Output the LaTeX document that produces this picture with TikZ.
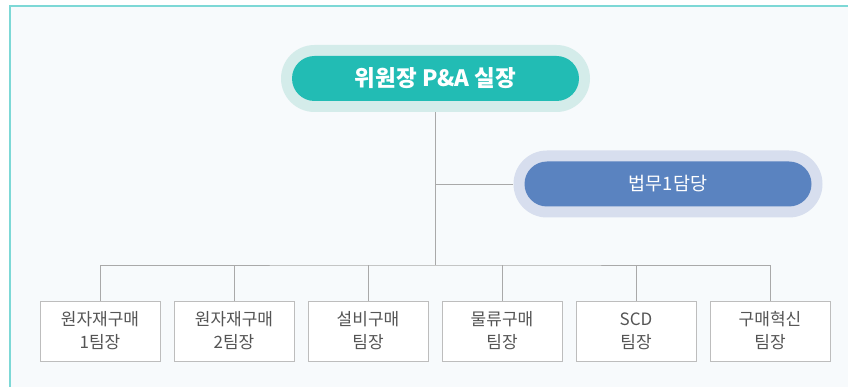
\documentclass[tikz,border=0pt]{standalone}
\usepackage{fontspec}
\setmainfont{Noto Sans CJK KR}
\usepackage{tikz}
\usetikzlibrary{positioning}

\definecolor{framecyan}{HTML}{7DD8D6}
\definecolor{paper}{HTML}{F7FAFC}
\definecolor{teal}{HTML}{22BCB4}
\definecolor{tealhalo}{HTML}{D4ECEA}
\definecolor{steel}{HTML}{5A83C0}
\definecolor{steelhalo}{HTML}{D7DEEE}
\definecolor{wire}{HTML}{A9A9A9}
\definecolor{boxline}{HTML}{BDBDBD}
\definecolor{boxtext}{HTML}{555555}

\begin{document}
\begin{tikzpicture}[
  x=1pt, y=-1pt,
  halo/.style={minimum width=309pt, minimum height=67pt, rounded corners=33.5pt, inner sep=0pt},
  pill/.style={minimum width=287pt, minimum height=45pt, rounded corners=22.5pt, inner sep=0pt, text=white},
  team/.style={draw=boxline, fill=white, line width=0.9pt, minimum width=120pt, minimum height=60pt, inner sep=0pt, align=center, text=boxtext, font=\fontsize{17}{23}\selectfont},
  wireline/.style={draw=wire, line width=0.9pt}
]
\useasboundingbox (0,0) rectangle (848,387);
\fill[white] (0,0) rectangle (848,387);
\fill[paper] (10,5) rectangle (848,387);
\draw[framecyan, line width=1.8pt] (10,387) -- (10,5.8) -- (848,5.8);

% head
\node[halo, fill=tealhalo] (headhalo) at (435.5,78.5) {};
\node[pill, fill=teal, font=\fontsize{22.5}{26}\selectfont\bfseries] (head) at (435.5,78.5) {위원장 P\&A 실장};

% legal
\node[halo, fill=steelhalo] (legalhalo) at (668,184) {};
\node[pill, fill=steel, font=\fontsize{18.5}{22}\selectfont] (legal) at (668,184) {법무1담당};

% teams
\node[team] (t1) at (100,331) {원자재구매\\1팀장};
\node[team] (t2) at (234,331) {원자재구매\\2팀장};
\node[team] (t3) at (368,331) {설비구매\\팀장};
\node[team] (t4) at (502,331) {물류구매\\팀장};
\node[team] (t5) at (636,331) {SCD\\팀장};
\node[team] (t6) at (770,331) {구매혁신\\팀장};

\coordinate (bus) at (435.5,265);

\draw[wireline] (headhalo.south) -- (bus);
\draw[wireline] (legalhalo.west) -- (legalhalo.west -| headhalo.south);
\draw[wireline] (t1.north) |- (bus) -| (t6.north);
\draw[wireline] (t2.north) -- (t2.north |- bus);
\draw[wireline] (t3.north) -- (t3.north |- bus);
\draw[wireline] (t4.north) -- (t4.north |- bus);
\draw[wireline] (t5.north) -- (t5.north |- bus);
\end{tikzpicture}
\end{document}
